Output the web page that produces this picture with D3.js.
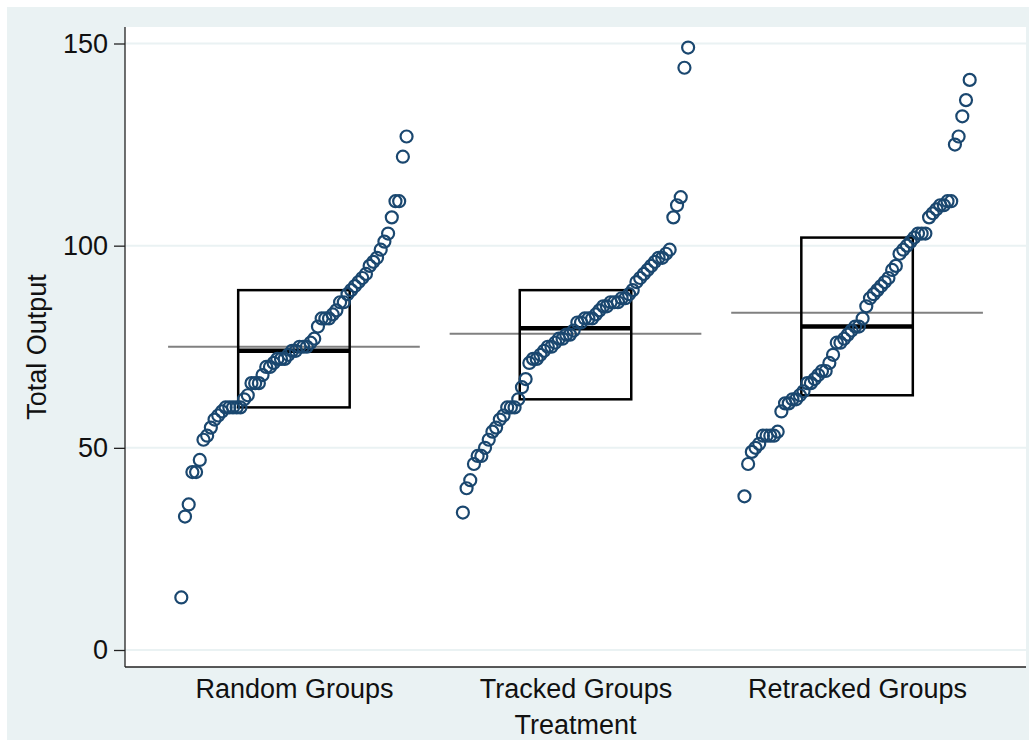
<!DOCTYPE html>
<html lang="en">
    <head>
        <meta charset="utf-8">
        <title>Total Output by Treatment</title>
        <script type="text/javascript" src="https://d3js.org/d3.v7.min.js"></script>
        <style type="text/css">
            body { margin: 0; background: #ffffff; }
            text { font-family: "Liberation Sans", Arial, sans-serif; fill: #111111; }
        </style>
    </head>
    <body>
        <script type="text/javascript">

        //Data (sorted output per group)
        const categories = ["Random Groups", "Tracked Groups", "Retracked Groups"];

        const randomGroups = [13, 33, 36, 44, 44, 47, 52, 53, 55, 57,
                              58, 59, 60, 60, 60, 60, 60, 62, 63, 66,
                              66, 66, 68, 70, 70, 71, 72, 72, 72, 73,
                              74, 74, 75, 75, 75, 76, 77, 80, 82, 82,
                              82, 83, 84, 86, 86, 88, 89, 90, 91, 92,
                              93, 95, 96, 97, 99, 101, 103, 107, 111, 111,
                              122, 127];

        const trackedGroups = [34, 40, 42, 46, 48, 48, 50, 52, 54, 55,
                               57, 58, 60, 60, 60, 62, 65, 67, 71, 72,
                               72, 73, 74, 75, 75, 76, 77, 77, 78, 78,
                               79, 81, 81, 82, 82, 82, 83, 84, 85, 85,
                               86, 86, 86, 87, 87, 88, 89, 91, 92, 93,
                               94, 95, 96, 97, 97, 98, 99, 107, 110, 112,
                               144, 149];

        const retrackedGroups = [38, 46, 49, 50, 51, 53, 53, 53, 53, 54,
                                 59, 61, 61, 62, 62, 63, 64, 66, 66, 67,
                                 68, 69, 69, 71, 73, 76, 76, 77, 78, 79,
                                 80, 80, 82, 85, 87, 88, 89, 90, 91, 92,
                                 94, 95, 98, 99, 100, 101, 102, 103, 103, 103,
                                 107, 108, 109, 110, 110, 111, 111, 125, 127, 132,
                                 136, 141];

        //box (quartiles + median) and mean line per group
        const lowerQuartile = [60, 62, 63];
        const medians = [74, 79.6, 80];
        const upperQuartile = [89, 89, 102];
        const means = [75, 78.2, 83.4];

        const yTicks = [0, 50, 100, 150];

        //Layout
        const width = 1029;
        const height = 740;
        const plotLeft = 125, plotRight = 1026, plotTop = 27, plotBottom = 667;
        const navy = "#1a476f";
        const bg = "#eaf2f3";
        const fontSize = "27px";

        const groups = [randomGroups, trackedGroups, retrackedGroups];

        //Scales - groups sit at 1, 2, 3
        const xScale = d3.scaleLinear()
                        .domain([0.4, 3.6])
                        .range([plotLeft, plotRight]);

        const yScale = d3.scaleLinear()
                        .domain([0, 150])
                        .range([650, 43.5]);

        //SVG
        const svg = d3.select("body")
                    .append("svg")
                    .attr("width", width)
                    .attr("height", height);

        //graph region + plot region
        svg.append("rect")
            .attr("x", 7).attr("y", 7)
            .attr("width", width - 7).attr("height", height - 7)
            .attr("fill", bg);

        svg.append("rect")
            .attr("x", plotLeft).attr("y", plotTop)
            .attr("width", plotRight - plotLeft).attr("height", plotBottom - plotTop)
            .attr("fill", "#ffffff");

        //Gridlines
        svg.selectAll("line.grid")
            .data(yTicks)
            .enter()
            .append("line")
            .attr("class", "grid")
            .attr("x1", plotLeft)
            .attr("x2", plotRight)
            .attr("y1", d => yScale(d))
            .attr("y2", d => yScale(d))
            .attr("stroke", bg)
            .attr("stroke-width", 2);

        //Mean lines
        svg.selectAll("line.mean")
            .data(means)
            .enter()
            .append("line")
            .attr("class", "mean")
            .attr("x1", (d, i) => xScale(i + 1 - 0.447))
            .attr("x2", (d, i) => xScale(i + 1 + 0.447))
            .attr("y1", d => yScale(d))
            .attr("y2", d => yScale(d))
            .attr("stroke", "#808080")
            .attr("stroke-width", 2);

        //Boxes
        svg.selectAll("rect.box")
            .data(categories)
            .enter()
            .append("rect")
            .attr("class", "box")
            .attr("x", (d, i) => xScale(i + 1 - 0.198))
            .attr("width", xScale(1.198) - xScale(0.802))
            .attr("y", (d, i) => yScale(upperQuartile[i]))
            .attr("height", (d, i) => yScale(lowerQuartile[i]) - yScale(upperQuartile[i]))
            .attr("fill", "none")
            .attr("stroke", "#000000")
            .attr("stroke-width", 2.5);

        svg.selectAll("line.median")
            .data(medians)
            .enter()
            .append("line")
            .attr("class", "median")
            .attr("x1", (d, i) => xScale(i + 1 - 0.198))
            .attr("x2", (d, i) => xScale(i + 1 + 0.198))
            .attr("y1", d => yScale(d))
            .attr("y2", d => yScale(d))
            .attr("stroke", "#000000")
            .attr("stroke-width", 4.5);

        //Points - spread by rank within each group
        groups.forEach((values, g) => {
            const n = values.length;
            svg.append("g")
                .selectAll("circle")
                .data(values)
                .enter()
                .append("circle")
                .attr("cx", (d, i) => xScale(g + 1 - 0.4 + 0.8 * i / (n - 1)))
                .attr("cy", d => yScale(d))
                .attr("r", 6)
                .attr("fill", "none")
                .attr("stroke", navy)
                .attr("stroke-width", 2.2);
        });

        //Axes
        const leftAxis = d3.axisLeft(yScale)
                           .tickValues(yTicks)
                           .tickSize(11)
                           .tickPadding(6);

        const yAxis = svg.append("g")
            .attr("transform", "translate(" + plotLeft + ",0)")
            .call(leftAxis);
        yAxis.select(".domain").remove();
        yAxis.selectAll("line").attr("stroke", "#222").attr("stroke-width", 1.3);
        yAxis.selectAll("text").attr("font-size", fontSize).attr("fill", "#111");

        const bottomAxis = d3.axisBottom(xScale)
                             .tickValues([1, 2, 3])
                             .tickSize(0)
                             .tickPadding(12)
                             .tickFormat(d => categories[d - 1]);

        const xAxis = svg.append("g")
            .attr("transform", "translate(0," + plotBottom + ")")
            .call(bottomAxis);
        xAxis.select(".domain").remove();
        xAxis.selectAll("text").attr("font-size", fontSize).attr("fill", "#111");

        //axis lines
        svg.append("line")
            .attr("x1", plotLeft).attr("x2", plotLeft)
            .attr("y1", plotTop).attr("y2", plotBottom)
            .attr("stroke", "#222").attr("stroke-width", 1.3);

        svg.append("line")
            .attr("x1", plotLeft).attr("x2", plotRight)
            .attr("y1", plotBottom).attr("y2", plotBottom)
            .attr("stroke", "#222").attr("stroke-width", 1.3);

        //Titles
        svg.append("text")
            .attr("x", (plotLeft + plotRight) / 2)
            .attr("y", 734)
            .attr("text-anchor", "middle")
            .attr("font-size", fontSize)
            .text("Treatment");

        svg.append("text")
            .attr("transform", "translate(46," + (plotTop + plotBottom) / 2 + ") rotate(-90)")
            .attr("text-anchor", "middle")
            .attr("font-size", fontSize)
            .text("Total Output");

        </script>
    </body>
</html>
